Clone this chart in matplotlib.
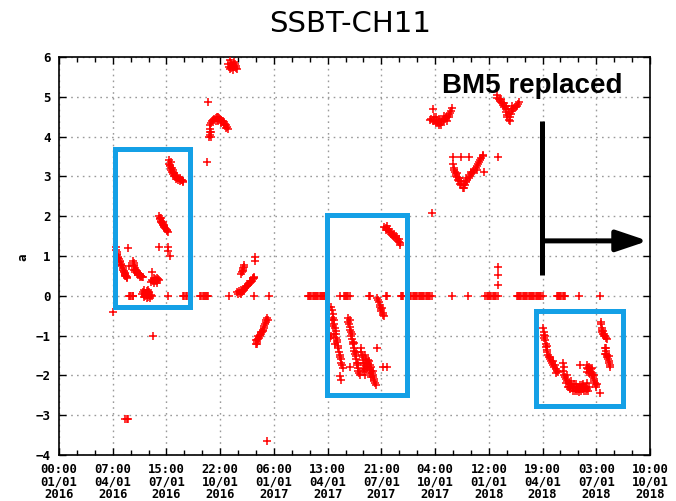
import numpy as np
import matplotlib
matplotlib.use('Agg')
import matplotlib.pyplot as plt
from matplotlib.patches import Rectangle
from matplotlib.ticker import AutoMinorLocator

# x is in days since 2016-01-01 00:00; the axis ends at 2018-10-01 10:00
X_END = 1004.4167
TICK_LABELS = [
    '00:00\n01/01\n2016', '07:00\n04/01\n2016', '15:00\n07/01\n2016',
    '22:00\n10/01\n2016', '06:00\n01/01\n2017', '13:00\n04/01\n2017',
    '21:00\n07/01\n2017', '04:00\n10/01\n2017', '12:00\n01/01\n2018',
    '19:00\n04/01\n2018', '03:00\n07/01\n2018', '10:00\n10/01\n2018',
]

# readings sitting on the zero line (sensor dropouts)
zero_days = [119, 121, 123, 125, 126, 185, 211, 213, 215, 217,
             240, 242, 244, 246, 248, 250, 252, 254, 289, 332, 357,
             423, 425, 427, 429, 431, 433, 435, 437, 439, 441, 443, 445,
             447, 449, 451, 452, 478, 484, 486, 488, 490, 492, 495, 527,
             529, 556, 557, 581, 583, 585, 597, 599, 601, 603, 605, 607,
             609, 611, 613, 615, 617, 619, 621, 623, 625, 627, 629, 631,
             634, 668, 695, 724, 727, 729, 731, 733, 735, 737, 739, 741,
             743, 746, 778, 780, 782, 784, 786, 788, 790, 792, 794, 796,
             798, 800, 802, 804, 806, 808, 810, 812, 814, 816, 818, 820,
             823, 846, 848, 850, 852, 854, 856, 858, 860, 884, 919]

spring_2016 = [
    (92, -0.40), (97, 1.22), (97, 1.15), (98, 1.10), (98, 1.05), (99, 1.02),
    (100, 0.98), (101, 0.95), (102, 0.92), (103, 0.88), (104, 0.85),
    (105, 0.80), (106, 0.78), (107, 0.74), (108, 0.70), (109, 0.66),
    (110, 0.62), (111, 0.60), (112, 0.56), (113, 0.52), (114, 0.50),
    (115, 0.47), (116, 0.45), (113, 0.58), (112, 0.50), (117, 1.20),
    (119, 0.75), (126, 0.88), (127, 0.82), (127, 0.78), (128, 0.74),
    (129, 0.70), (130, 0.66), (131, 0.64), (132, 0.62), (133, 0.60),
    (134, 0.58), (135, 0.56), (136, 0.55), (137, 0.53), (138, 0.52),
    (139, 0.50), (140, 0.49), (141, 0.48), (142, 0.47), (130, 0.60),
    (134, 0.52), (137, 0.48), (128, 0.65), (141, 0.05), (143, 0.10),
    (145, 0.15), (146, 0.05), (147, 0.00), (148, 0.08), (149, 0.12),
    (150, 0.02), (151, -0.03), (152, 0.05), (153, 0.10), (154, 0.00),
    (155, -0.05), (156, 0.03), (158, 0.00), (144, -0.02), (149, -0.05),
    (152, 0.15), (156, 0.35), (158, 0.40), (160, 0.38), (161, 0.45),
    (163, 0.42), (164, 0.36), (165, 0.40), (166, 0.45), (167, 0.38),
    (168, 0.42), (170, 0.40), (162, 0.33), (166, 0.33), (158, 0.60),
    (160, -1.00), (113, -3.10), (115, -3.10), (117, -3.10),
]

summer_2016 = [
    (170, 1.23), (170, 2.00), (171, 1.95), (172, 1.92), (173, 1.88),
    (174, 1.85), (175, 1.82), (176, 1.80), (177, 1.78), (178, 1.75),
    (179, 1.72), (180, 1.70), (181, 1.68), (183, 1.65), (184, 1.62),
    (185, 1.60), (173, 1.95), (176, 1.86), (179, 1.78), (186, 1.23),
    (186, 1.12), (188, 1.00), (187, 3.40), (187, 3.32), (188, 3.28),
    (189, 3.25), (190, 3.20), (191, 3.15), (192, 3.12), (193, 3.10),
    (194, 3.05), (195, 3.02), (197, 3.00), (199, 2.98), (201, 3.00),
    (203, 2.95), (205, 2.95), (207, 2.92), (209, 2.90), (211, 2.88),
    (198, 2.93), (202, 2.92), (206, 2.88), (210, 2.85), (190, 3.35),
    (192, 3.22), (194, 3.15), (196, 3.08), (252, 3.37), (253, 4.87),
]

autumn_2016 = [
    (258, 3.98), (257, 4.05), (256, 4.12), (257, 4.20), (256, 4.28),
    (258, 4.35), (260, 4.40), (262, 4.42), (264, 4.45), (266, 4.47),
    (268, 4.48), (270, 4.50), (272, 4.46), (274, 4.43), (276, 4.42),
    (278, 4.40), (280, 4.36), (282, 4.32), (284, 4.28), (286, 4.24),
    (288, 4.20), (276, 4.35), (280, 4.28), (284, 4.22), (270, 4.40),
    (266, 4.40), (259, 4.12), (255, 4.00),
    (290, 5.92), (292, 5.85), (294, 5.80), (296, 5.78), (298, 5.75),
    (300, 5.72), (302, 5.70), (289, 5.75), (291, 5.70), (295, 5.68),
    (299, 5.82), (297, 5.88), (293, 5.73), (301, 5.78), (288, 5.82),
    (303, 0.10), (305, 0.05), (306, 0.12), (308, 0.08), (309, 0.15),
    (310, 0.05), (311, 0.10), (312, 0.12), (314, 0.15), (316, 0.20),
    (318, 0.22), (320, 0.25), (322, 0.28), (324, 0.32), (326, 0.35),
    (328, 0.38), (330, 0.42), (332, 0.45), (317, 0.25), (321, 0.30),
    (325, 0.38), (329, 0.44), (331, 0.48), (310, 0.55), (311, 0.60),
    (312, 0.65), (313, 0.70), (314, 0.73), (315, 0.78), (313, 0.62),
    (333, 0.97), (333, 0.88),
    (353, -0.55), (352, -0.60), (351, -0.65), (350, -0.70), (349, -0.75),
    (348, -0.80), (347, -0.85), (346, -0.88), (345, -0.92), (344, -0.95),
    (342, -0.98), (341, -1.02), (340, -1.05), (338, -1.08), (337, -1.12),
    (336, -1.15), (335, -1.20), (334, -1.10), (336, -1.22), (339, -1.00),
    (343, -0.90), (355, -0.60), (354, -3.65),
]

spring_2017 = [
    (463, -0.28), (464, -0.35), (465, -0.45), (466, -0.55), (467, -0.62),
    (468, -0.70), (466, -0.75), (469, -0.80), (470, -0.88), (471, -0.95),
    (470, -1.05), (472, -1.10), (473, -1.15), (474, -1.25), (475, -1.32),
    (476, -1.40), (477, -1.48), (478, -1.55), (479, -1.60), (480, -1.68),
    (481, -1.75), (482, -1.82), (478, -2.02), (479, -2.12), (461, -1.05),
    (462, -1.00), (464, -0.60), (467, -0.95), (469, -1.20),
    (491, -0.55), (492, -0.65), (493, -0.70), (494, -0.78), (495, -0.85),
    (496, -0.92), (497, -1.00), (498, -1.08), (499, -1.15), (500, -1.22),
    (501, -1.30), (502, -1.38), (503, -1.45), (504, -1.52), (505, -1.60),
    (506, -1.68), (507, -1.75), (508, -1.82), (509, -1.88), (510, -1.95),
    (512, -2.00), (495, -0.60), (498, -0.95), (501, -1.18), (504, -1.40),
    (508, -1.70), (495, -1.80),
    (513, -1.30), (514, -1.40), (515, -1.50), (516, -1.55), (517, -1.62),
    (518, -1.70), (519, -1.75), (520, -1.50), (521, -1.60), (522, -1.68),
    (523, -1.72), (524, -1.78), (525, -1.80), (526, -1.70), (527, -1.65),
    (528, -1.75), (529, -1.85), (530, -1.90), (531, -1.80), (532, -1.95),
    (533, -2.00), (534, -2.05), (535, -2.10), (536, -2.15), (537, -2.20),
    (538, -2.25), (518, -1.90), (520, -2.00), (522, -1.85), (528, -1.95),
    (531, -2.05), (534, -1.90), (540, -1.30), (551, -1.78), (557, -1.78),
    (525, -1.62), (516, -1.85),
    (540, -0.05), (542, -0.10), (544, -0.15), (545, -0.22), (546, -0.28),
    (547, -0.33), (548, -0.38), (550, -0.42), (551, -0.47), (553, -0.52),
    (549, -0.30),
    (553, 1.72), (555, 1.70), (556, 1.65), (558, 1.68), (560, 1.62),
    (562, 1.60), (564, 1.55), (566, 1.52), (568, 1.50), (570, 1.48),
    (572, 1.45), (574, 1.42), (576, 1.38), (578, 1.35), (580, 1.32),
    (557, 1.75), (561, 1.68), (565, 1.60), (569, 1.55), (573, 1.50),
    (577, 1.42), (579, 1.28),
]

late_2017 = [
    (634, 2.08),
    (631, 4.42), (633, 4.45), (635, 4.40), (636, 4.70), (637, 4.50),
    (638, 4.38), (640, 4.35), (642, 4.40), (644, 4.33), (646, 4.30),
    (648, 4.35), (650, 4.40), (652, 4.38), (654, 4.42), (656, 4.45),
    (658, 4.48), (660, 4.50), (662, 4.55), (664, 4.60), (666, 4.65),
    (668, 4.72), (663, 4.48), (659, 4.40), (645, 4.45), (640, 4.48),
    (650, 4.30), (655, 4.52),
    (670, 3.49), (683, 3.49), (697, 3.49), (746, 3.49),
    (670, 3.30), (671, 3.22), (672, 3.15), (673, 3.10), (674, 3.05),
    (675, 3.00), (676, 2.98), (678, 2.92), (680, 2.88), (682, 2.82),
    (684, 2.78), (686, 2.72), (688, 2.70), (690, 2.78), (692, 2.85),
    (694, 2.90), (696, 2.95), (698, 3.00), (700, 3.05), (702, 3.08),
    (704, 3.12), (706, 3.15), (708, 3.20), (710, 3.25), (712, 3.30),
    (714, 3.35), (716, 3.40), (718, 3.45), (720, 3.52), (721, 3.55),
    (684, 2.88), (688, 2.80), (692, 2.95), (700, 3.12), (710, 3.15),
    (722, 3.10), (677, 3.08), (680, 2.95),
    (744, 5.05), (745, 4.98), (747, 4.95), (749, 4.92), (751, 4.88),
    (753, 4.85), (755, 4.80), (757, 4.75), (759, 4.70), (760, 4.62),
    (761, 4.55), (762, 4.48), (764, 4.42), (766, 4.38), (767, 4.50),
    (768, 4.58), (770, 4.65), (772, 4.70), (774, 4.72), (776, 4.75),
    (778, 4.78), (780, 4.82), (782, 4.87), (756, 4.85), (760, 4.78),
    (765, 4.60), (770, 4.78), (752, 4.95), (763, 4.70),
    (746, 0.73), (746, 0.52), (746, 0.27),
]

spring_2018 = [
    (823, -0.82), (824, -0.90), (825, -0.98), (825, -1.05), (826, -1.12),
    (827, -1.20), (828, -1.28), (829, -1.35), (830, -1.42), (831, -1.48),
    (833, -1.55), (834, -1.60), (836, -1.65), (838, -1.70), (840, -1.75),
    (842, -1.80), (844, -1.85), (846, -1.90), (848, -1.92), (835, -1.55),
    (839, -1.65), (843, -1.75), (845, -1.95), (826, -1.00), (829, -1.25),
    (857, -1.70), (858, -1.80), (857, -1.90), (859, -2.00), (860, -2.05),
    (862, -2.10), (864, -2.15), (866, -2.20), (868, -2.22), (870, -2.25),
    (872, -2.28), (874, -2.30), (876, -2.32), (878, -2.35), (880, -2.32),
    (882, -2.30), (884, -2.35), (886, -2.33), (888, -2.30), (890, -2.35),
    (892, -2.30), (894, -2.32), (896, -2.28), (898, -2.35), (900, -2.30),
    (861, -2.20), (865, -2.28), (869, -2.35), (873, -2.38), (877, -2.40),
    (881, -2.38), (887, -2.40), (893, -2.40), (899, -2.38), (863, -2.00),
    (871, -2.15), (879, -2.22), (885, -2.25), (891, -2.22), (897, -2.20),
    (867, -2.30), (875, -2.22), (883, -2.42), (889, -2.25), (895, -2.38),
    (885, -1.75),
    (897, -1.75), (898, -1.82), (899, -1.85), (900, -1.80), (902, -1.88),
    (903, -1.92), (904, -1.85), (905, -1.95), (906, -2.00), (907, -2.05),
    (908, -1.98), (909, -2.10), (910, -2.15), (911, -2.20), (912, -2.25),
    (913, -2.30), (901, -1.95), (905, -1.82), (909, -2.00), (897, -1.92),
    (914, -2.22), (920, -2.45),
    (921, -0.65), (921, -0.72), (922, -0.80), (922, -0.85), (923, -0.90),
    (924, -0.95), (926, -1.00), (928, -1.02), (930, -1.05), (932, -1.08),
    (925, -0.88), (927, -0.95),
    (928, -1.32), (929, -1.38), (930, -1.45), (931, -1.50), (932, -1.55),
    (933, -1.60), (934, -1.65), (935, -1.70), (936, -1.75), (930, -1.30),
    (934, -1.52), (937, -1.78), (928, -1.45),
]

# highlighted periods: (start day, end day, low, high)
boxes = [(96, 222, -0.29, 3.70), (456, 592, -2.50, 2.04), (810, 959, -0.37, -2.78)]

BOX_COLOUR = '#14a0e6'
MONO = 'DejaVu Sans Mono'

fig = plt.figure(figsize=(6.76, 5.01), dpi=100)
ax = fig.add_axes([59 / 676, 46 / 501, 591 / 676, 398 / 501])

pts = np.array(spring_2016 + summer_2016 + autumn_2016 + spring_2017
               + late_2017 + spring_2018)
zd = np.array(zero_days, dtype=float)
ax.plot(zd, np.zeros_like(zd), '+', color='red', ms=5.5, mew=1.1, zorder=3)
ax.plot(pts[:, 0], pts[:, 1], '+', color='red', ms=5.5, mew=1.1, zorder=3)

for x0, x1, y0, y1 in boxes:
    ax.add_patch(Rectangle((x0, min(y0, y1)), x1 - x0, abs(y1 - y0),
                           fill=False, edgecolor=BOX_COLOUR, lw=3.6, zorder=4))

# replacement marker: vertical bar plus arrow pointing forward in time
ax.plot([821, 821], [0.52, 4.39], color='black', lw=3.6,
        solid_capstyle='butt', zorder=5)
ax.annotate('', xy=(1001, 1.38), xytext=(821, 1.38),
            arrowprops=dict(arrowstyle='-|>,head_length=0.95,head_width=0.32',
                            color='black', lw=3.6, mutation_scale=20,
                            shrinkA=0, shrinkB=0, capstyle='butt'), zorder=5)
ax.text(651, 5.10, 'BM5 replaced', fontsize=20, fontweight='bold',
        family='Liberation Sans', ha='left', va='baseline', zorder=6)

ax.set_xlim(0, X_END)
ax.set_ylim(-4, 6)
step = X_END / 11
ax.set_xticks([i * step for i in range(12)])
ax.set_xticklabels(TICK_LABELS, family=MONO, fontsize=8.8, fontweight='bold',
                   linespacing=0.95)
ax.set_yticks(range(-4, 7))
ax.set_yticklabels([str(v).replace('-', '\u2212') for v in range(-4, 7)],
                   family=MONO, fontsize=9, fontweight='bold')
ax.xaxis.set_minor_locator(AutoMinorLocator(3))
ax.tick_params(which='both', direction='in', top=True, right=True,
               width=1, colors='black')
ax.tick_params(which='major', length=5)
ax.tick_params(axis='x', which='major', pad=6)
ax.tick_params(axis='y', which='major', pad=6)
ax.tick_params(which='minor', length=3.5)
ax.grid(True, which='major', color='#9a9a9a', linestyle=(0, (1.2, 3)), lw=1)
ax.set_axisbelow(True)
for s in ax.spines.values():
    s.set_linewidth(1.2)

fig.text(350.5 / 676, 1 - 32 / 501, 'SSBT-CH11', fontsize=21,
         ha='center', va='baseline')
fig.text(23 / 676, 1 - 257 / 501, 'a', rotation=90, family=MONO,
         fontsize=9, fontweight='bold', ha='center', va='center')

fig.savefig('out.png', dpi=100, facecolor='white')
